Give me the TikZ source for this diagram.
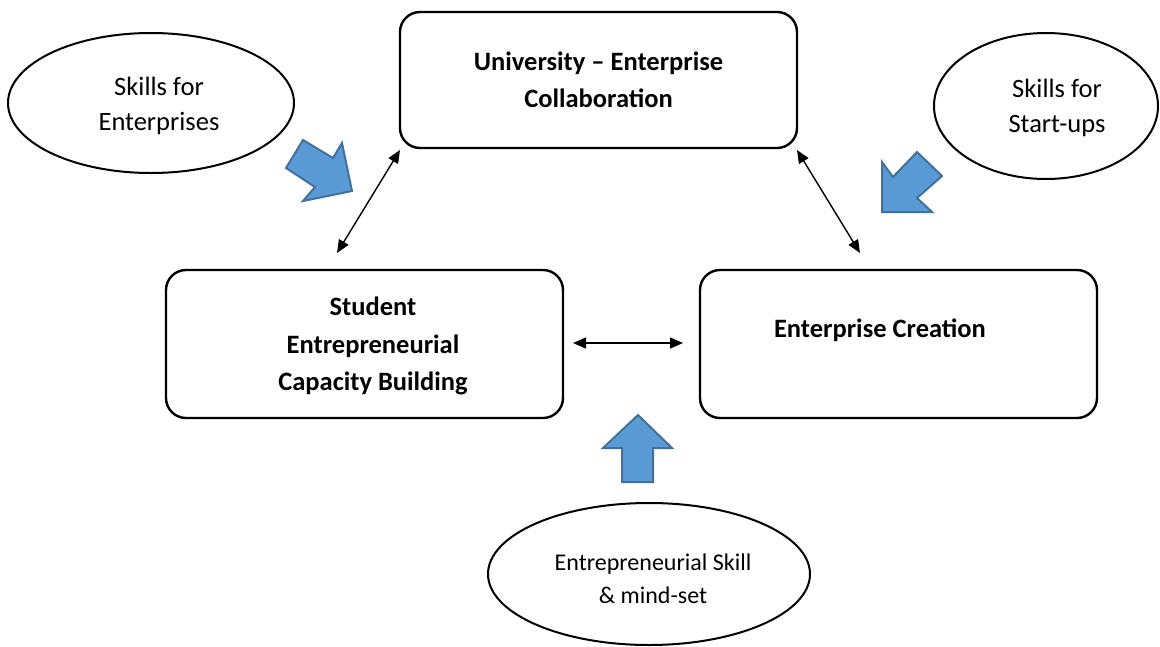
\documentclass[tikz,border=0pt]{standalone}
\usepackage{fontspec}
\setmainfont{Carlito}
\usetikzlibrary{shapes.geometric,arrows.meta}
\definecolor{blockfill}{HTML}{5B9BD5}
\definecolor{blockline}{HTML}{41719C}
\tikzset{
  boxfont/.style={font=\fontsize{26.5}{37.5}\selectfont\bfseries},
  box/.style={draw=black, line width=2.4pt, rounded corners=20pt, minimum width=397pt, inner sep=0pt, align=center, boxfont},
  oval/.style={draw=black, line width=2pt, ellipse, inner sep=0pt},
  ovaltxt/.style={align=center, inner sep=0pt, font=\fontsize{26.5}{34.5}\selectfont},
  smalltxt/.style={align=center, inner sep=0pt, font=\fontsize{24}{33}\selectfont},
  link/.style={line width=1.4pt, {Triangle[length=13pt,width=11pt]}-{Triangle[length=13pt,width=11pt]}},
  block/.style={fill=blockfill, draw=blockline, line width=2pt, line join=miter}
}
\begin{document}
\begin{tikzpicture}[x=1pt,y=-1pt]
\useasboundingbox (0,0) rectangle (1160,646);
% boxes
\node[box, minimum height=136pt] (uec) at (598.5,80) {University -- Enterprise\\Collaboration};
\node[box, minimum height=148pt] (secb) at (364.5,344) {};
\node[align=center, inner sep=0pt, boxfont] (secbt) at (373,346) {Student\\Entrepreneurial\\Capacity Building};
\node[box, minimum height=148pt] (ec) at (898.5,344) {};
\node[inner sep=0pt, boxfont] (ect) at (880,330) {Enterprise Creation};
% ellipses
\node[oval, minimum width=286pt, minimum height=140pt] (sfe) at (151,103) {};
\node[ovaltxt] (sfet) at (159,106) {Skills for\\Enterprises};
\node[oval, minimum width=224pt, minimum height=146pt] (sfs) at (1046,106) {};
\node[ovaltxt] (sfst) at (1057,108) {Skills for\\Start-ups};
\node[oval, minimum width=322pt, minimum height=142pt] (esm) at (649,574) {};
\node[smalltxt] (esmt) at (653,579) {Entrepreneurial Skill\\\& mind-set};
% connector end points
\coordinate (a1) at (400,150);
\coordinate (a2) at (337,253);
\coordinate (b1) at (797,150);
\coordinate (b2) at (860,253);
\coordinate (c1) at (573,343);
\coordinate (c2) at (683,343);
\draw[link] (a2) -- (a1);
\draw[link] (b1) -- (b2);
\draw[link] (c1) -- (c2);
% block arrows
\draw[block] (286,168) -- (303,140) -- (333,158) -- (342,143) -- (352,191) -- (303,201) -- (315,187) -- cycle;
\draw[block] (917,152) -- (942,176) -- (917,198) -- (932,212) -- (882,212) -- (882,162) -- (893,177) -- cycle;
\draw[block] (638,415) -- (672,448) -- (653,448) -- (653,482) -- (622,482) -- (622,448) -- (603,448) -- cycle;
\end{tikzpicture}
\end{document}
